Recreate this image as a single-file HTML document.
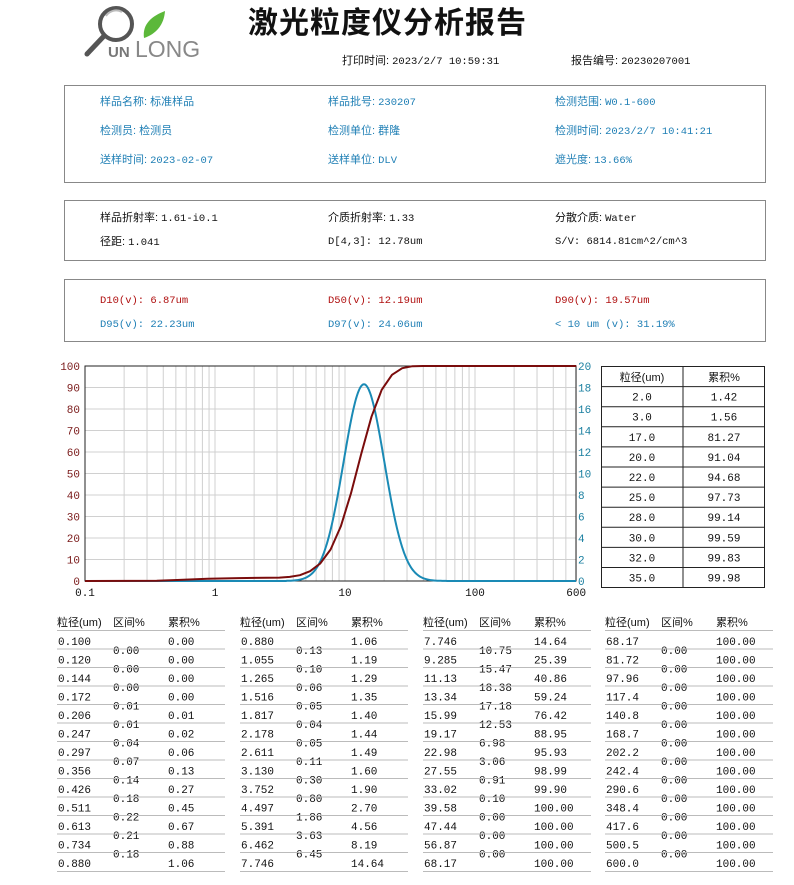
<!DOCTYPE html>
<html><head><meta charset="utf-8"><style>
body{margin:0;width:794px;height:885px;background:#fff;position:relative;overflow:hidden;font-family:"Liberation Sans","Noto Sans CJK SC",sans-serif;}
.a{position:absolute;white-space:nowrap;font-size:11px;line-height:13px;}
.b{color:#1f7fb5}.r{color:#b01010}.k{color:#111}
.box{position:absolute;border:1px solid #888;}
.m{font-family:"Liberation Mono","Noto Sans CJK SC",monospace;font-size:10.5px}
</style></head><body>
<svg style="position:absolute;left:80px;top:6px" width="135" height="56">
<circle cx="36" cy="18" r="16" fill="none" stroke="#555" stroke-width="4"/>
<path d="M26 10 A12 12 0 0 1 42 6" stroke="#bbb" stroke-width="2" fill="none"/>
<line x1="24" y1="30" x2="7" y2="48" stroke="#555" stroke-width="5" stroke-linecap="round"/>
<path d="M64 32 C62 18 72 10 85 5 C84 19 76 28 64 32Z" fill="#5cb83a"/>
<text x="28" y="51" font-family="Liberation Sans" font-size="15" font-weight="bold" fill="#777">UN</text>
<text x="55" y="51" font-family="Liberation Sans" font-size="23" fill="#888">LONG</text>
</svg>
<div class="a k" style="left:248px;top:6px;font-size:30px;line-height:36px;font-weight:bold;letter-spacing:1px">激光粒度仪分析报告</div>
<div class="a k" style="left:342px;top:55px">打印时间: <span class="m">2023/2/7 10:59:31</span></div>
<div class="a k" style="left:571px;top:55px">报告编号: <span class="m">20230207001</span></div>

<div class="box" style="left:64px;top:85px;width:700px;height:96px"></div>
<div class="a b" style="left:100px;top:96px">样品名称: 标准样品</div>
<div class="a b" style="left:328px;top:96px">样品批号: <span class="m">230207</span></div>
<div class="a b" style="left:555px;top:96px">检测范围: <span class="m">W0.1-600</span></div>
<div class="a b" style="left:100px;top:125px">检测员: 检测员</div>
<div class="a b" style="left:328px;top:125px">检测单位: 群隆</div>
<div class="a b" style="left:555px;top:125px">检测时间: <span class="m">2023/2/7 10:41:21</span></div>
<div class="a b" style="left:100px;top:154px">送样时间: <span class="m">2023-02-07</span></div>
<div class="a b" style="left:328px;top:154px">送样单位: <span class="m">DLV</span></div>
<div class="a b" style="left:555px;top:154px">遮光度: <span class="m">13.66%</span></div>

<div class="box" style="left:64px;top:200px;width:700px;height:59px"></div>
<div class="a k" style="left:100px;top:212px">样品折射率: <span class="m">1.61-i0.1</span></div>
<div class="a k" style="left:328px;top:212px">介质折射率: <span class="m">1.33</span></div>
<div class="a k" style="left:555px;top:212px">分散介质: <span class="m">Water</span></div>
<div class="a k" style="left:100px;top:236px">径距: <span class="m">1.041</span></div>
<div class="a k m" style="left:328px;top:236px">D[4,3]: 12.78um</div>
<div class="a k m" style="left:555px;top:236px">S/V: 6814.81cm^2/cm^3</div>

<div class="box" style="left:64px;top:279px;width:700px;height:61px"></div>
<div class="a r m" style="left:100px;top:295px">D10(v): 6.87um</div>
<div class="a r m" style="left:328px;top:295px">D50(v): 12.19um</div>
<div class="a r m" style="left:555px;top:295px">D90(v): 19.57um</div>
<div class="a b m" style="left:100px;top:319px">D95(v): 22.23um</div>
<div class="a b m" style="left:328px;top:319px">D97(v): 24.06um</div>
<div class="a b m" style="left:555px;top:319px">&lt; 10 um (v): 31.19%</div>

<svg id="ch" style="position:absolute;left:0;top:0" width="794" height="885"></svg>
<script>
var X0=85,DEC=130,YT=366,YB=581;
function lx(v){return X0+(Math.log10(v)+1)*DEC;}
var s='';
var ns='font-family="Liberation Mono,monospace" font-size="11"';
for(var d=-1;d<3;d++)for(var k=1;k<10;k++){var v=k*Math.pow(10,d);if(v>600)break;var x=lx(v);s+='<line x1="'+x+'" y1="'+YT+'" x2="'+x+'" y2="'+YB+'" stroke="#d0d0d0"/>';}
for(var i=1;i<10;i++){var y=YB-(YB-YT)*i/10;s+='<line x1="'+X0+'" y1="'+y+'" x2="576" y2="'+y+'" stroke="#d0d0d0"/>';}
s+='<rect x="'+X0+'" y="'+YT+'" width="'+(576-X0)+'" height="'+(YB-YT)+'" fill="none" stroke="#222"/>';
for(var i=0;i<=10;i++){var y=YB-(YB-YT)*i/10;s+='<text x="80" y="'+(y+4)+'" text-anchor="end" fill="#7a1a1a" '+ns+'>'+(i*10)+'</text>';s+='<text x="578" y="'+(y+4)+'" fill="#1a7fa0" '+ns+'>'+(i*2)+'</text>';}
[[0.1,'0.1'],[1,'1'],[10,'10'],[100,'100'],[600,'600']].forEach(function(p){s+='<text x="'+lx(p[0])+'" y="596" text-anchor="middle" fill="#111" '+ns+'>'+p[1]+'</text>';});
var pb='';for(var x=X0;x<=576;x++){var lv=(x-X0)/DEC-1;var g=18.3*Math.exp(-Math.pow(lv-1.146,2)/(2*0.0245));if(lv<0.55)g=0;var y=YB-(YB-YT)*g/20;pb+=(pb?'L':'M')+x+' '+y.toFixed(1);}
s+='<path d="'+pb+'" fill="none" stroke="#1a8ab5" stroke-width="2"/>';
var cd=[[0.1,0],[0.356,.13],[0.511,.45],[0.88,1.06],[1.516,1.35],[3.13,1.6],[3.752,1.9],[4.497,2.7],[5.391,4.56],[6.462,8.19],[7.746,14.64],[9.285,25.39],[11.13,40.86],[13.34,59.24],[15.99,76.42],[19.17,88.95],[22.98,95.93],[27.55,98.99],[33.02,99.9],[39.58,100],[600,100]];
var pc='';cd.forEach(function(p){pc+=(pc?'L':'M')+lx(p[0]).toFixed(1)+' '+(YB-(YB-YT)*p[1]/100).toFixed(1);});
s+='<path d="'+pc+'" fill="none" stroke="#7a0c0c" stroke-width="2" stroke-linejoin="round"/>';
var rt=[['2.0','1.42'],['3.0','1.56'],['17.0','81.27'],['20.0','91.04'],['22.0','94.68'],['25.0','97.73'],['28.0','99.14'],['30.0','99.59'],['32.0','99.83'],['35.0','99.98']];
s+='<rect x="601.5" y="366.5" width="163" height="221" fill="none" stroke="#222"/><line x1="683" y1="366" x2="683" y2="587" stroke="#222"/>';
for(var i=1;i<11;i++){var y=366.5+i*20.1;s+='<line x1="601" y1="'+y+'" x2="765" y2="'+y+'" stroke="#222"/>';}
s+='<text x="642" y="381" text-anchor="middle" font-size="11" fill="#111" font-family="Liberation Sans,Noto Sans CJK SC">粒径(um)</text><text x="724" y="381" text-anchor="middle" font-size="11" fill="#111" font-family="Liberation Sans,Noto Sans CJK SC">累积%</text>';
rt.forEach(function(r,i){var y=366.5+(i+1)*20.1+14;s+='<text x="642" y="'+y+'" text-anchor="middle" fill="#111" '+ns+'>'+r[0]+'</text><text x="724" y="'+y+'" text-anchor="middle" fill="#111" '+ns+'>'+r[1]+'</text>';});
var G=[
[['0.100','0.120','0.144','0.172','0.206','0.247','0.297','0.356','0.426','0.511','0.613','0.734','0.880'],['0.00','0.00','0.00','0.01','0.01','0.04','0.07','0.14','0.18','0.22','0.21','0.18'],['0.00','0.00','0.00','0.00','0.01','0.02','0.06','0.13','0.27','0.45','0.67','0.88','1.06']],
[['0.880','1.055','1.265','1.516','1.817','2.178','2.611','3.130','3.752','4.497','5.391','6.462','7.746'],['0.13','0.10','0.06','0.05','0.04','0.05','0.11','0.30','0.80','1.86','3.63','6.45'],['1.06','1.19','1.29','1.35','1.40','1.44','1.49','1.60','1.90','2.70','4.56','8.19','14.64']],
[['7.746','9.285','11.13','13.34','15.99','19.17','22.98','27.55','33.02','39.58','47.44','56.87','68.17'],['10.75','15.47','18.38','17.18','12.53','6.98','3.06','0.91','0.10','0.00','0.00','0.00'],['14.64','25.39','40.86','59.24','76.42','88.95','95.93','98.99','99.90','100.00','100.00','100.00','100.00']],
[['68.17','81.72','97.96','117.4','140.8','168.7','202.2','242.4','290.6','348.4','417.6','500.5','600.0'],['0.00','0.00','0.00','0.00','0.00','0.00','0.00','0.00','0.00','0.00','0.00','0.00'],['100.00','100.00','100.00','100.00','100.00','100.00','100.00','100.00','100.00','100.00','100.00','100.00','100.00']]];
var GX=[57,240,423,605];
G.forEach(function(g,j){var x=GX[j];
s+='<text x="'+x+'" y="626" font-size="11" fill="#111" font-family="Liberation Sans,Noto Sans CJK SC">粒径(um)</text><text x="'+(x+56)+'" y="626" font-size="11" fill="#111" font-family="Liberation Sans,Noto Sans CJK SC">区间%</text><text x="'+(x+111)+'" y="626" font-size="11" fill="#111" font-family="Liberation Sans,Noto Sans CJK SC">累积%</text>';
for(var i=0;i<13;i++){var y=645+i*18.5;s+='<line x1="'+x+'" y1="'+(y-14.5)+'" x2="'+(x+168)+'" y2="'+(y-14.5)+'" stroke="#bbb"/>';
s+='<text x="'+(x+1)+'" y="'+y+'" fill="#111" '+ns+'>'+g[0][i]+'</text><text x="'+(x+111)+'" y="'+y+'" fill="#111" '+ns+'>'+g[2][i]+'</text>';
if(i<12){s+='<rect x="'+(x+54)+'" y="'+(y-1)+'" width="38" height="12" fill="#fff"/><text x="'+(x+56)+'" y="'+(y+9)+'" fill="#111" '+ns+'>'+g[1][i]+'</text>';}}
s+='<line x1="'+x+'" y1="'+(645+12*18.5+4.5)+'" x2="'+(x+168)+'" y2="'+(645+12*18.5+4.5)+'" stroke="#bbb"/>';
});
document.getElementById('ch').innerHTML=s;
</script>
</body></html>
